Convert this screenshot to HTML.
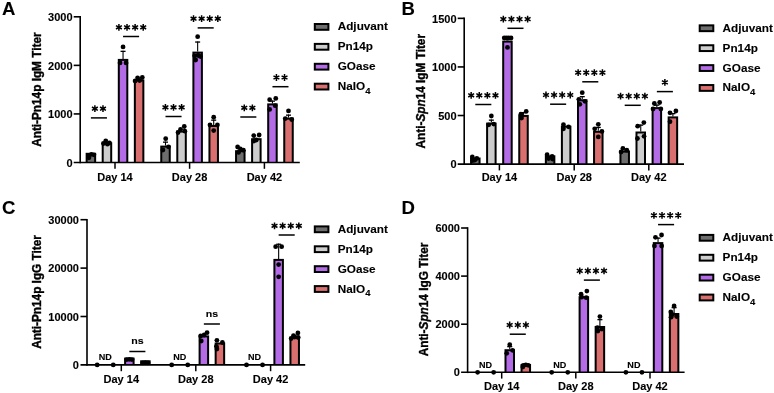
<!DOCTYPE html>
<html><head><meta charset="utf-8"><style>
html,body{margin:0;padding:0;background:#fff;}
body{width:774px;height:393px;overflow:hidden;}
svg{display:block;will-change:transform;}
text{stroke:#000;stroke-width:0.1px;font-family:"Liberation Sans", sans-serif;}
</style></head><body>
<svg width="774" height="393" viewBox="0 0 774 393">
<rect width="774" height="393" fill="#fff"/>
<path d="M80.2 163.3V16" stroke="#000" stroke-width="1.6"/>
<text transform="translate(72.6 166.77) scale(1.08 1)" text-anchor="end" font-size="10.2" font-weight="bold">0</text>
<path d="M73.7 113.93H80.2" stroke="#000" stroke-width="1.6"/>
<text transform="translate(72.6 118.21) scale(1.08 1)" text-anchor="end" font-size="10.2" font-weight="bold">1000</text>
<path d="M73.7 65.37H80.2" stroke="#000" stroke-width="1.6"/>
<text transform="translate(72.6 69.64) scale(1.08 1)" text-anchor="end" font-size="10.2" font-weight="bold">2000</text>
<path d="M73.7 16.8H80.2" stroke="#000" stroke-width="1.6"/>
<text transform="translate(72.6 21.07) scale(1.08 1)" text-anchor="end" font-size="10.2" font-weight="bold">3000</text>
<text transform="translate(40.7 89.65) rotate(-90) scale(1 1.08)" text-anchor="middle" font-size="11.8" font-weight="bold" style="stroke-width:0.35px">Anti-Pn14p IgM Titer</text>
<path d="M115 162.5V168.8" stroke="#000" stroke-width="1.5"/>
<text transform="translate(115 180.8) scale(1.08 1)" text-anchor="middle" font-size="10.2" font-weight="bold">Day 14</text>
<rect x="85.65" y="152.8" width="10.5" height="9.7" fill="#000"/>
<rect x="87.65" y="154.8" width="6.5" height="7.7" fill="#6e6e6e"/>
<circle cx="88.4" cy="155.5" r="2.4"/>
<circle cx="91.4" cy="154.3" r="2.4"/>
<circle cx="93.9" cy="154.8" r="2.4"/>
<circle cx="88.9" cy="157.8" r="2.4"/>
<rect x="101.7" y="142.3" width="10.5" height="20.2" fill="#000"/>
<rect x="103.7" y="144.3" width="6.5" height="18.2" fill="#cdcdcd"/>
<circle cx="105.75" cy="140.8" r="2.4"/>
<circle cx="103.45" cy="143.5" r="2.4"/>
<circle cx="109.45" cy="142.8" r="2.4"/>
<circle cx="107.45" cy="144.2" r="2.4"/>
<path d="M123.05 58.9V50.7" stroke="#000" stroke-width="1.1"/>
<rect x="120.55" y="50.7" width="5" height="1.3"/>
<rect x="117.8" y="58.9" width="10.5" height="103.6" fill="#000"/>
<rect x="119.8" y="60.9" width="6.5" height="101.6" fill="#b46ce6"/>
<circle cx="123.05" cy="46.9" r="2.4"/>
<circle cx="120.05" cy="62.9" r="2.4"/>
<circle cx="126.05" cy="62.9" r="2.4"/>
<rect x="133.85" y="79.5" width="10.5" height="83" fill="#000"/>
<rect x="135.85" y="81.5" width="6.5" height="81" fill="#da6f6f"/>
<circle cx="137.6" cy="77.8" r="2.4"/>
<circle cx="142.3" cy="77.5" r="2.4"/>
<circle cx="135.1" cy="81" r="2.4"/>
<circle cx="139.6" cy="80.5" r="2.4"/>
<path d="M189.6 162.5V168.8" stroke="#000" stroke-width="1.5"/>
<text transform="translate(189.6 180.8) scale(1.08 1)" text-anchor="middle" font-size="10.2" font-weight="bold">Day 28</text>
<path d="M165.5 145.6V141.5" stroke="#000" stroke-width="1.1"/>
<rect x="163" y="141.5" width="5" height="1.3"/>
<rect x="160.25" y="145.6" width="10.5" height="16.9" fill="#000"/>
<rect x="162.25" y="147.6" width="6.5" height="14.9" fill="#6e6e6e"/>
<circle cx="165.7" cy="138.7" r="2.4"/>
<circle cx="162.9" cy="150" r="2.4"/>
<circle cx="168.5" cy="146.8" r="2.4"/>
<rect x="176.3" y="130.6" width="10.5" height="31.9" fill="#000"/>
<rect x="178.3" y="132.6" width="6.5" height="29.9" fill="#cdcdcd"/>
<circle cx="184.25" cy="126.5" r="2.4"/>
<circle cx="180.55" cy="129.3" r="2.4"/>
<circle cx="178.05" cy="132.5" r="2.4"/>
<circle cx="184.85" cy="131.2" r="2.4"/>
<path d="M197.65 51.6V41.4" stroke="#000" stroke-width="1.1"/>
<rect x="195.15" y="41.4" width="5" height="1.3"/>
<rect x="192.4" y="51.6" width="10.5" height="110.9" fill="#000"/>
<rect x="194.4" y="53.6" width="6.5" height="108.9" fill="#b46ce6"/>
<circle cx="197.65" cy="36.7" r="2.4"/>
<circle cx="194.65" cy="55.8" r="2.4"/>
<circle cx="198.15" cy="55.5" r="2.4"/>
<circle cx="200.45" cy="56.5" r="2.4"/>
<circle cx="195.65" cy="60" r="2.4"/>
<path d="M213.7 125V119.5" stroke="#000" stroke-width="1.1"/>
<rect x="211.2" y="119.5" width="5" height="1.3"/>
<rect x="208.45" y="125" width="10.5" height="37.5" fill="#000"/>
<rect x="210.45" y="127" width="6.5" height="35.5" fill="#da6f6f"/>
<circle cx="213.7" cy="117.2" r="2.4"/>
<circle cx="210" cy="125" r="2.4"/>
<circle cx="217.4" cy="125" r="2.4"/>
<circle cx="213.7" cy="130.6" r="2.4"/>
<path d="M264.4 162.5V168.8" stroke="#000" stroke-width="1.5"/>
<text transform="translate(264.4 180.8) scale(1.08 1)" text-anchor="middle" font-size="10.2" font-weight="bold">Day 42</text>
<rect x="235.05" y="150.2" width="10.5" height="12.3" fill="#000"/>
<rect x="237.05" y="152.2" width="6.5" height="10.3" fill="#6e6e6e"/>
<circle cx="237.6" cy="147" r="2.4"/>
<circle cx="240.3" cy="148.8" r="2.4"/>
<circle cx="243.4" cy="150.2" r="2.4"/>
<circle cx="238.5" cy="152.4" r="2.4"/>
<rect x="251.1" y="138.2" width="10.5" height="24.3" fill="#000"/>
<rect x="253.1" y="140.2" width="6.5" height="22.3" fill="#cdcdcd"/>
<circle cx="253.75" cy="135.6" r="2.4"/>
<circle cx="259.15" cy="135" r="2.4"/>
<circle cx="256.35" cy="140" r="2.4"/>
<circle cx="253.75" cy="141" r="2.4"/>
<path d="M272.45 103.4V100.5" stroke="#000" stroke-width="1.1"/>
<rect x="269.95" y="100.5" width="5" height="1.3"/>
<rect x="267.2" y="103.4" width="10.5" height="59.1" fill="#000"/>
<rect x="269.2" y="105.4" width="6.5" height="57.1" fill="#b46ce6"/>
<circle cx="269.65" cy="99.7" r="2.4"/>
<circle cx="275.75" cy="98.4" r="2.4"/>
<circle cx="269.65" cy="109.4" r="2.4"/>
<circle cx="275.15" cy="105.7" r="2.4"/>
<path d="M288.5 117.6V114.5" stroke="#000" stroke-width="1.1"/>
<rect x="286" y="114.5" width="5" height="1.3"/>
<rect x="283.25" y="117.6" width="10.5" height="44.9" fill="#000"/>
<rect x="285.25" y="119.6" width="6.5" height="42.9" fill="#da6f6f"/>
<circle cx="288.5" cy="110.9" r="2.4"/>
<circle cx="285.3" cy="118.6" r="2.4"/>
<circle cx="291.7" cy="119.5" r="2.4"/>
<path d="M73.7 162.5H299.8" stroke="#000" stroke-width="1.6"/>
<path d="M90.9 117.9H106.95" stroke="#000" stroke-width="1.5"/>
<path d="M94.88 105.3L94.88 112.1M91.93 107L97.82 110.4M97.82 107L91.93 110.4" stroke="#000" stroke-width="1.5" stroke-linecap="butt"/><path d="M102.98 105.3L102.98 112.1M100.03 107L105.92 110.4M105.92 107L100.03 110.4" stroke="#000" stroke-width="1.5" stroke-linecap="butt"/>
<path d="M123.05 36.5H139.1" stroke="#000" stroke-width="1.5"/>
<path d="M118.92 23.9L118.92 30.7M115.98 25.6L121.87 29M121.87 25.6L115.98 29" stroke="#000" stroke-width="1.5" stroke-linecap="butt"/><path d="M127.02 23.9L127.02 30.7M124.08 25.6L129.97 29M129.97 25.6L124.08 29" stroke="#000" stroke-width="1.5" stroke-linecap="butt"/><path d="M135.12 23.9L135.12 30.7M132.18 25.6L138.07 29M138.07 25.6L132.18 29" stroke="#000" stroke-width="1.5" stroke-linecap="butt"/><path d="M143.22 23.9L143.22 30.7M140.28 25.6L146.17 29M146.17 25.6L140.28 29" stroke="#000" stroke-width="1.5" stroke-linecap="butt"/>
<path d="M165.5 116.5H181.55" stroke="#000" stroke-width="1.5"/>
<path d="M165.42 103.9L165.42 110.7M162.48 105.6L168.37 109M168.37 105.6L162.48 109" stroke="#000" stroke-width="1.5" stroke-linecap="butt"/><path d="M173.52 103.9L173.52 110.7M170.58 105.6L176.47 109M176.47 105.6L170.58 109" stroke="#000" stroke-width="1.5" stroke-linecap="butt"/><path d="M181.62 103.9L181.62 110.7M178.68 105.6L184.57 109M184.57 105.6L178.68 109" stroke="#000" stroke-width="1.5" stroke-linecap="butt"/>
<path d="M197.65 27.9H213.7" stroke="#000" stroke-width="1.5"/>
<path d="M193.53 15.3L193.53 22.1M190.58 17L196.47 20.4M196.47 17L190.58 20.4" stroke="#000" stroke-width="1.5" stroke-linecap="butt"/><path d="M201.62 15.3L201.62 22.1M198.68 17L204.57 20.4M204.57 17L198.68 20.4" stroke="#000" stroke-width="1.5" stroke-linecap="butt"/><path d="M209.72 15.3L209.72 22.1M206.78 17L212.67 20.4M212.67 17L206.78 20.4" stroke="#000" stroke-width="1.5" stroke-linecap="butt"/><path d="M217.82 15.3L217.82 22.1M214.88 17L220.77 20.4M220.77 17L214.88 20.4" stroke="#000" stroke-width="1.5" stroke-linecap="butt"/>
<path d="M240.3 117H256.35" stroke="#000" stroke-width="1.5"/>
<path d="M244.27 104.4L244.27 111.2M241.33 106.1L247.22 109.5M247.22 106.1L241.33 109.5" stroke="#000" stroke-width="1.5" stroke-linecap="butt"/><path d="M252.37 104.4L252.37 111.2M249.43 106.1L255.32 109.5M255.32 106.1L249.43 109.5" stroke="#000" stroke-width="1.5" stroke-linecap="butt"/>
<path d="M272.45 86.7H288.5" stroke="#000" stroke-width="1.5"/>
<path d="M276.43 74.1L276.43 80.9M273.48 75.8L279.37 79.2M279.37 75.8L273.48 79.2" stroke="#000" stroke-width="1.5" stroke-linecap="butt"/><path d="M284.53 74.1L284.53 80.9M281.58 75.8L287.47 79.2M287.47 75.8L281.58 79.2" stroke="#000" stroke-width="1.5" stroke-linecap="butt"/>
<text transform="translate(2 15) scale(1.03 1)" text-anchor="start" font-size="18" font-weight="bold">A</text>
<rect x="313.8" y="23" width="15.6" height="7.8" fill="#000"/>
<rect x="315.8" y="25" width="11.6" height="3.8" fill="#6e6e6e"/>
<text transform="translate(337.7 30.4) scale(1.06 1)" text-anchor="start" font-size="11.1" font-weight="bold">Adjuvant</text>
<rect x="313.8" y="42.9" width="15.6" height="7.8" fill="#000"/>
<rect x="315.8" y="44.9" width="11.6" height="3.8" fill="#cdcdcd"/>
<text transform="translate(337.7 50.3) scale(1.06 1)" text-anchor="start" font-size="11.1" font-weight="bold">Pn14p</text>
<rect x="313.8" y="62.8" width="15.6" height="7.8" fill="#000"/>
<rect x="315.8" y="64.8" width="11.6" height="3.8" fill="#b46ce6"/>
<text transform="translate(337.7 70.2) scale(1.06 1)" text-anchor="start" font-size="11.1" font-weight="bold">GOase</text>
<rect x="313.8" y="82.7" width="15.6" height="7.8" fill="#000"/>
<rect x="315.8" y="84.7" width="11.6" height="3.8" fill="#da6f6f"/>
<text transform="translate(337.7 90.1) scale(1.06 1)" text-anchor="start" font-size="11.1" font-weight="bold">NaIO<tspan font-size="9" dy="3.6">4</tspan></text>
<path d="M464.2 164.9V17.55" stroke="#000" stroke-width="1.6"/>
<text transform="translate(456.6 168.37) scale(1.08 1)" text-anchor="end" font-size="10.2" font-weight="bold">0</text>
<path d="M457.7 115.52H464.2" stroke="#000" stroke-width="1.6"/>
<text transform="translate(456.6 119.79) scale(1.08 1)" text-anchor="end" font-size="10.2" font-weight="bold">500</text>
<path d="M457.7 66.93H464.2" stroke="#000" stroke-width="1.6"/>
<text transform="translate(456.6 71.21) scale(1.08 1)" text-anchor="end" font-size="10.2" font-weight="bold">1000</text>
<path d="M457.7 18.35H464.2" stroke="#000" stroke-width="1.6"/>
<text transform="translate(456.6 22.62) scale(1.08 1)" text-anchor="end" font-size="10.2" font-weight="bold">1500</text>
<text transform="translate(424.8 91.22) rotate(-90) scale(1 1.08)" text-anchor="middle" font-size="11.8" font-weight="bold" style="stroke-width:0.35px">Anti-<tspan font-style="italic">Spn</tspan>14 IgM Titer</text>
<path d="M499.4 164.1V170.4" stroke="#000" stroke-width="1.5"/>
<text transform="translate(499.4 181.4) scale(1.08 1)" text-anchor="middle" font-size="10.2" font-weight="bold">Day 14</text>
<rect x="470.05" y="157.5" width="10.5" height="6.6" fill="#000"/>
<rect x="472.05" y="159.5" width="6.5" height="4.6" fill="#6e6e6e"/>
<circle cx="472.3" cy="157" r="2.4"/>
<circle cx="476.8" cy="158.4" r="2.4"/>
<circle cx="474.8" cy="160" r="2.4"/>
<circle cx="472.8" cy="160.5" r="2.4"/>
<path d="M491.35 122.6V119.5" stroke="#000" stroke-width="1.1"/>
<rect x="488.85" y="119.5" width="5" height="1.3"/>
<rect x="486.1" y="122.6" width="10.5" height="41.5" fill="#000"/>
<rect x="488.1" y="124.6" width="6.5" height="39.5" fill="#cdcdcd"/>
<circle cx="491.35" cy="116" r="2.4"/>
<circle cx="488.75" cy="124.8" r="2.4"/>
<circle cx="493.75" cy="124.1" r="2.4"/>
<path d="M507.45 40.6V38" stroke="#000" stroke-width="1.1"/>
<rect x="504.95" y="38" width="5" height="1.3"/>
<rect x="502.2" y="40.6" width="10.5" height="123.5" fill="#000"/>
<rect x="504.2" y="42.6" width="6.5" height="121.5" fill="#b46ce6"/>
<circle cx="504.25" cy="38" r="2.4"/>
<circle cx="506.45" cy="38" r="2.4"/>
<circle cx="508.65" cy="38" r="2.4"/>
<circle cx="511.05" cy="38" r="2.4"/>
<circle cx="507.45" cy="47.4" r="2.4"/>
<path d="M523.5 114.9V112" stroke="#000" stroke-width="1.1"/>
<rect x="521" y="112" width="5" height="1.3"/>
<rect x="518.25" y="114.9" width="10.5" height="49.2" fill="#000"/>
<rect x="520.25" y="116.9" width="6.5" height="47.2" fill="#da6f6f"/>
<circle cx="526.2" cy="111.4" r="2.4"/>
<circle cx="520.9" cy="114.2" r="2.4"/>
<circle cx="521.5" cy="118" r="2.4"/>
<path d="M574.2 164.1V170.4" stroke="#000" stroke-width="1.5"/>
<text transform="translate(574.2 181.4) scale(1.08 1)" text-anchor="middle" font-size="10.2" font-weight="bold">Day 28</text>
<rect x="544.85" y="155.3" width="10.5" height="8.8" fill="#000"/>
<rect x="546.85" y="157.3" width="6.5" height="6.8" fill="#6e6e6e"/>
<circle cx="547.1" cy="154.7" r="2.4"/>
<circle cx="552.1" cy="156.3" r="2.4"/>
<circle cx="548.6" cy="158.5" r="2.4"/>
<circle cx="552.6" cy="159" r="2.4"/>
<rect x="560.9" y="125.7" width="10.5" height="38.4" fill="#000"/>
<rect x="562.9" y="127.7" width="6.5" height="36.4" fill="#cdcdcd"/>
<circle cx="563.45" cy="124.7" r="2.4"/>
<circle cx="568.55" cy="126.8" r="2.4"/>
<circle cx="563.45" cy="128.8" r="2.4"/>
<path d="M582.25 99.3V96" stroke="#000" stroke-width="1.1"/>
<rect x="579.75" y="96" width="5" height="1.3"/>
<rect x="577" y="99.3" width="10.5" height="64.8" fill="#000"/>
<rect x="579" y="101.3" width="6.5" height="62.8" fill="#b46ce6"/>
<circle cx="582.25" cy="92.7" r="2.4"/>
<circle cx="578.85" cy="99.3" r="2.4"/>
<circle cx="584.95" cy="101.3" r="2.4"/>
<circle cx="579.85" cy="104.3" r="2.4"/>
<path d="M598.3 130.8V126.8" stroke="#000" stroke-width="1.1"/>
<rect x="595.8" y="126.8" width="5" height="1.3"/>
<rect x="593.05" y="130.8" width="10.5" height="33.3" fill="#000"/>
<rect x="595.05" y="132.8" width="6.5" height="31.3" fill="#da6f6f"/>
<circle cx="598.3" cy="124.3" r="2.4"/>
<circle cx="594.7" cy="128.8" r="2.4"/>
<circle cx="601.9" cy="131.4" r="2.4"/>
<circle cx="598.3" cy="136.9" r="2.4"/>
<path d="M648.8 164.1V170.4" stroke="#000" stroke-width="1.5"/>
<text transform="translate(648.8 181.4) scale(1.08 1)" text-anchor="middle" font-size="10.2" font-weight="bold">Day 42</text>
<rect x="619.45" y="150.6" width="10.5" height="13.5" fill="#000"/>
<rect x="621.45" y="152.6" width="6.5" height="11.5" fill="#6e6e6e"/>
<circle cx="622.9" cy="148.4" r="2.4"/>
<circle cx="626.8" cy="150.2" r="2.4"/>
<circle cx="621.1" cy="152" r="2.4"/>
<path d="M640.75 131.5V124.5" stroke="#000" stroke-width="1.1"/>
<rect x="638.25" y="124.5" width="5" height="1.3"/>
<rect x="635.5" y="131.5" width="10.5" height="32.6" fill="#000"/>
<rect x="637.5" y="133.5" width="6.5" height="30.6" fill="#cdcdcd"/>
<circle cx="637.65" cy="126.2" r="2.4"/>
<circle cx="643.85" cy="122.6" r="2.4"/>
<circle cx="637.45" cy="138.5" r="2.4"/>
<circle cx="644.05" cy="136.3" r="2.4"/>
<path d="M656.85 107.1V104.5" stroke="#000" stroke-width="1.1"/>
<rect x="654.35" y="104.5" width="5" height="1.3"/>
<rect x="651.6" y="107.1" width="10.5" height="57" fill="#000"/>
<rect x="653.6" y="109.1" width="6.5" height="55" fill="#b46ce6"/>
<circle cx="654.35" cy="103.5" r="2.4"/>
<circle cx="659.65" cy="102.5" r="2.4"/>
<circle cx="653.05" cy="109" r="2.4"/>
<circle cx="660.85" cy="109" r="2.4"/>
<path d="M672.9 116.4V113" stroke="#000" stroke-width="1.1"/>
<rect x="670.4" y="113" width="5" height="1.3"/>
<rect x="667.65" y="116.4" width="10.5" height="47.7" fill="#000"/>
<rect x="669.65" y="118.4" width="6.5" height="45.7" fill="#da6f6f"/>
<circle cx="670" cy="112.8" r="2.4"/>
<circle cx="675.9" cy="111" r="2.4"/>
<circle cx="670" cy="121.7" r="2.4"/>
<path d="M457.7 164.1H684" stroke="#000" stroke-width="1.6"/>
<path d="M475.3 104.5H491.35" stroke="#000" stroke-width="1.5"/>
<path d="M471.17 91.9L471.17 98.7M468.23 93.6L474.12 97M474.12 93.6L468.23 97" stroke="#000" stroke-width="1.5" stroke-linecap="butt"/><path d="M479.27 91.9L479.27 98.7M476.33 93.6L482.22 97M482.22 93.6L476.33 97" stroke="#000" stroke-width="1.5" stroke-linecap="butt"/><path d="M487.37 91.9L487.37 98.7M484.43 93.6L490.32 97M490.32 93.6L484.43 97" stroke="#000" stroke-width="1.5" stroke-linecap="butt"/><path d="M495.47 91.9L495.47 98.7M492.53 93.6L498.42 97M498.42 93.6L492.53 97" stroke="#000" stroke-width="1.5" stroke-linecap="butt"/>
<path d="M507.45 28.3H523.5" stroke="#000" stroke-width="1.5"/>
<path d="M503.33 15.7L503.33 22.5M500.38 17.4L506.27 20.8M506.27 17.4L500.38 20.8" stroke="#000" stroke-width="1.5" stroke-linecap="butt"/><path d="M511.43 15.7L511.43 22.5M508.48 17.4L514.37 20.8M514.37 17.4L508.48 20.8" stroke="#000" stroke-width="1.5" stroke-linecap="butt"/><path d="M519.53 15.7L519.53 22.5M516.58 17.4L522.47 20.8M522.47 17.4L516.58 20.8" stroke="#000" stroke-width="1.5" stroke-linecap="butt"/><path d="M527.62 15.7L527.62 22.5M524.68 17.4L530.57 20.8M530.57 17.4L524.68 20.8" stroke="#000" stroke-width="1.5" stroke-linecap="butt"/>
<path d="M550.1 104.2H566.15" stroke="#000" stroke-width="1.5"/>
<path d="M545.98 91.6L545.98 98.4M543.03 93.3L548.92 96.7M548.92 93.3L543.03 96.7" stroke="#000" stroke-width="1.5" stroke-linecap="butt"/><path d="M554.08 91.6L554.08 98.4M551.13 93.3L557.02 96.7M557.02 93.3L551.13 96.7" stroke="#000" stroke-width="1.5" stroke-linecap="butt"/><path d="M562.18 91.6L562.18 98.4M559.23 93.3L565.12 96.7M565.12 93.3L559.23 96.7" stroke="#000" stroke-width="1.5" stroke-linecap="butt"/><path d="M570.27 91.6L570.27 98.4M567.33 93.3L573.22 96.7M573.22 93.3L567.33 96.7" stroke="#000" stroke-width="1.5" stroke-linecap="butt"/>
<path d="M582.25 81.8H598.3" stroke="#000" stroke-width="1.5"/>
<path d="M578.13 69.2L578.13 76M575.18 70.9L581.07 74.3M581.07 70.9L575.18 74.3" stroke="#000" stroke-width="1.5" stroke-linecap="butt"/><path d="M586.23 69.2L586.23 76M583.28 70.9L589.17 74.3M589.17 70.9L583.28 74.3" stroke="#000" stroke-width="1.5" stroke-linecap="butt"/><path d="M594.33 69.2L594.33 76M591.38 70.9L597.27 74.3M597.27 70.9L591.38 74.3" stroke="#000" stroke-width="1.5" stroke-linecap="butt"/><path d="M602.43 69.2L602.43 76M599.48 70.9L605.37 74.3M605.37 70.9L599.48 74.3" stroke="#000" stroke-width="1.5" stroke-linecap="butt"/>
<path d="M624.7 105.3H640.75" stroke="#000" stroke-width="1.5"/>
<path d="M620.57 92.7L620.57 99.5M617.63 94.4L623.52 97.8M623.52 94.4L617.63 97.8" stroke="#000" stroke-width="1.5" stroke-linecap="butt"/><path d="M628.67 92.7L628.67 99.5M625.73 94.4L631.62 97.8M631.62 94.4L625.73 97.8" stroke="#000" stroke-width="1.5" stroke-linecap="butt"/><path d="M636.77 92.7L636.77 99.5M633.83 94.4L639.72 97.8M639.72 94.4L633.83 97.8" stroke="#000" stroke-width="1.5" stroke-linecap="butt"/><path d="M644.87 92.7L644.87 99.5M641.93 94.4L647.82 97.8M647.82 94.4L641.93 97.8" stroke="#000" stroke-width="1.5" stroke-linecap="butt"/>
<path d="M656.85 91.6H672.9" stroke="#000" stroke-width="1.5"/>
<path d="M664.88 79L664.88 85.8M661.93 80.7L667.82 84.1M667.82 80.7L661.93 84.1" stroke="#000" stroke-width="1.5" stroke-linecap="butt"/>
<text transform="translate(401.5 15) scale(1.03 1)" text-anchor="start" font-size="18" font-weight="bold">B</text>
<rect x="698.7" y="24.35" width="15.6" height="7.8" fill="#000"/>
<rect x="700.7" y="26.35" width="11.6" height="3.8" fill="#6e6e6e"/>
<text transform="translate(722.6 31.75) scale(1.06 1)" text-anchor="start" font-size="11.1" font-weight="bold">Adjuvant</text>
<rect x="698.7" y="44.25" width="15.6" height="7.8" fill="#000"/>
<rect x="700.7" y="46.25" width="11.6" height="3.8" fill="#cdcdcd"/>
<text transform="translate(722.6 51.65) scale(1.06 1)" text-anchor="start" font-size="11.1" font-weight="bold">Pn14p</text>
<rect x="698.7" y="64.15" width="15.6" height="7.8" fill="#000"/>
<rect x="700.7" y="66.15" width="11.6" height="3.8" fill="#b46ce6"/>
<text transform="translate(722.6 71.55) scale(1.06 1)" text-anchor="start" font-size="11.1" font-weight="bold">GOase</text>
<rect x="698.7" y="84.05" width="15.6" height="7.8" fill="#000"/>
<rect x="700.7" y="86.05" width="11.6" height="3.8" fill="#da6f6f"/>
<text transform="translate(722.6 91.45) scale(1.06 1)" text-anchor="start" font-size="11.1" font-weight="bold">NaIO<tspan font-size="9" dy="3.6">4</tspan></text>
<path d="M87 365.7V218.9" stroke="#000" stroke-width="1.6"/>
<text transform="translate(79 369.17) scale(1.08 1)" text-anchor="end" font-size="10.2" font-weight="bold">0</text>
<path d="M80.5 316.5H87" stroke="#000" stroke-width="1.6"/>
<text transform="translate(79 320.77) scale(1.08 1)" text-anchor="end" font-size="10.2" font-weight="bold">10000</text>
<path d="M80.5 268.1H87" stroke="#000" stroke-width="1.6"/>
<text transform="translate(79 272.37) scale(1.08 1)" text-anchor="end" font-size="10.2" font-weight="bold">20000</text>
<path d="M80.5 219.7H87" stroke="#000" stroke-width="1.6"/>
<text transform="translate(79 223.97) scale(1.08 1)" text-anchor="end" font-size="10.2" font-weight="bold">30000</text>
<text transform="translate(40.7 292) rotate(-90) scale(1 1.08)" text-anchor="middle" font-size="11.8" font-weight="bold" style="stroke-width:0.35px">Anti-Pn14p IgG Titer</text>
<path d="M121.3 364.9V371.2" stroke="#000" stroke-width="1.5"/>
<text transform="translate(121.3 382.9) scale(1.08 1)" text-anchor="middle" font-size="10.2" font-weight="bold">Day 14</text>
<circle cx="97.2" cy="364.9" r="2.4"/>
<circle cx="113.25" cy="364.9" r="2.4"/>
<rect x="124.1" y="357.6" width="10.5" height="7.3" fill="#000"/>
<rect x="126.1" y="359.6" width="6.5" height="5.3" fill="#b46ce6"/>
<circle cx="126.75" cy="359.6" r="2.4"/>
<circle cx="129.35" cy="359.3" r="2.4"/>
<circle cx="131.95" cy="359.6" r="2.4"/>
<rect x="140.15" y="360.3" width="10.5" height="4.6" fill="#000"/>
<rect x="142.15" y="362.3" width="6.5" height="2.6" fill="#da6f6f"/>
<circle cx="142.8" cy="362.8" r="2.4"/>
<circle cx="145.4" cy="362.7" r="2.4"/>
<circle cx="148" cy="362.8" r="2.4"/>
<text transform="translate(105.22 360) scale(1.08 1)" text-anchor="middle" font-size="8.4" font-weight="bold">ND</text>
<path d="M195.8 364.9V371.2" stroke="#000" stroke-width="1.5"/>
<text transform="translate(195.8 382.9) scale(1.08 1)" text-anchor="middle" font-size="10.2" font-weight="bold">Day 28</text>
<circle cx="171.7" cy="364.9" r="2.4"/>
<circle cx="187.75" cy="364.9" r="2.4"/>
<rect x="198.6" y="335.4" width="10.5" height="29.5" fill="#000"/>
<rect x="200.6" y="337.4" width="6.5" height="27.5" fill="#b46ce6"/>
<circle cx="207.05" cy="332.7" r="2.4"/>
<circle cx="204.15" cy="335" r="2.4"/>
<circle cx="200.65" cy="336" r="2.4"/>
<circle cx="201.25" cy="341" r="2.4"/>
<rect x="214.65" y="342.5" width="10.5" height="22.4" fill="#000"/>
<rect x="216.65" y="344.5" width="6.5" height="20.4" fill="#da6f6f"/>
<circle cx="216.9" cy="340.3" r="2.4"/>
<circle cx="222.4" cy="342.5" r="2.4"/>
<circle cx="216.4" cy="346.3" r="2.4"/>
<circle cx="216.9" cy="349" r="2.4"/>
<text transform="translate(179.73 360) scale(1.08 1)" text-anchor="middle" font-size="8.4" font-weight="bold">ND</text>
<path d="M270.6 364.9V371.2" stroke="#000" stroke-width="1.5"/>
<text transform="translate(270.6 382.9) scale(1.08 1)" text-anchor="middle" font-size="10.2" font-weight="bold">Day 42</text>
<circle cx="246.5" cy="364.9" r="2.4"/>
<circle cx="262.55" cy="364.9" r="2.4"/>
<path d="M278.65 258.9V243.6" stroke="#000" stroke-width="1.1"/>
<rect x="276.15" y="243.6" width="5" height="1.3"/>
<rect x="273.4" y="258.9" width="10.5" height="106" fill="#000"/>
<rect x="275.4" y="260.9" width="6.5" height="104" fill="#b46ce6"/>
<circle cx="275.65" cy="246.7" r="2.4"/>
<circle cx="281.65" cy="246.7" r="2.4"/>
<circle cx="278.65" cy="264.6" r="2.4"/>
<circle cx="278.65" cy="276.8" r="2.4"/>
<rect x="289.45" y="336.8" width="10.5" height="28.1" fill="#000"/>
<rect x="291.45" y="338.8" width="6.5" height="26.1" fill="#da6f6f"/>
<circle cx="297.9" cy="333" r="2.4"/>
<circle cx="293.5" cy="335.6" r="2.4"/>
<circle cx="291.2" cy="338.5" r="2.4"/>
<circle cx="298.2" cy="337.5" r="2.4"/>
<circle cx="294.7" cy="337" r="2.4"/>
<text transform="translate(254.53 360) scale(1.08 1)" text-anchor="middle" font-size="8.4" font-weight="bold">ND</text>
<path d="M80.5 364.9H305.2" stroke="#000" stroke-width="1.6"/>
<path d="M129.35 351.5H145.4" stroke="#000" stroke-width="1.5"/>
<text transform="translate(137.38 344) scale(1.08 1)" text-anchor="middle" font-size="9.8" font-weight="bold">ns</text>
<path d="M203.85 324H219.9" stroke="#000" stroke-width="1.5"/>
<text transform="translate(211.88 316.5) scale(1.08 1)" text-anchor="middle" font-size="9.8" font-weight="bold">ns</text>
<path d="M278.65 235H294.7" stroke="#000" stroke-width="1.5"/>
<path d="M274.53 222.4L274.53 229.2M271.58 224.1L277.47 227.5M277.47 224.1L271.58 227.5" stroke="#000" stroke-width="1.5" stroke-linecap="butt"/><path d="M282.63 222.4L282.63 229.2M279.68 224.1L285.57 227.5M285.57 224.1L279.68 227.5" stroke="#000" stroke-width="1.5" stroke-linecap="butt"/><path d="M290.73 222.4L290.73 229.2M287.78 224.1L293.67 227.5M293.67 224.1L287.78 227.5" stroke="#000" stroke-width="1.5" stroke-linecap="butt"/><path d="M298.83 222.4L298.83 229.2M295.88 224.1L301.77 227.5M301.77 224.1L295.88 227.5" stroke="#000" stroke-width="1.5" stroke-linecap="butt"/>
<text transform="translate(2 214) scale(1.03 1)" text-anchor="start" font-size="18" font-weight="bold">C</text>
<rect x="313.8" y="225.4" width="15.6" height="7.8" fill="#000"/>
<rect x="315.8" y="227.4" width="11.6" height="3.8" fill="#6e6e6e"/>
<text transform="translate(337.7 232.8) scale(1.06 1)" text-anchor="start" font-size="11.1" font-weight="bold">Adjuvant</text>
<rect x="313.8" y="245.3" width="15.6" height="7.8" fill="#000"/>
<rect x="315.8" y="247.3" width="11.6" height="3.8" fill="#cdcdcd"/>
<text transform="translate(337.7 252.7) scale(1.06 1)" text-anchor="start" font-size="11.1" font-weight="bold">Pn14p</text>
<rect x="313.8" y="265.2" width="15.6" height="7.8" fill="#000"/>
<rect x="315.8" y="267.2" width="11.6" height="3.8" fill="#b46ce6"/>
<text transform="translate(337.7 272.6) scale(1.06 1)" text-anchor="start" font-size="11.1" font-weight="bold">GOase</text>
<rect x="313.8" y="285.1" width="15.6" height="7.8" fill="#000"/>
<rect x="315.8" y="287.1" width="11.6" height="3.8" fill="#da6f6f"/>
<text transform="translate(337.7 292.5) scale(1.06 1)" text-anchor="start" font-size="11.1" font-weight="bold">NaIO<tspan font-size="9" dy="3.6">4</tspan></text>
<path d="M467.6 373.1V227.2" stroke="#000" stroke-width="1.6"/>
<text transform="translate(460 376.07) scale(1.08 1)" text-anchor="end" font-size="10.2" font-weight="bold">0</text>
<path d="M461.1 324.2H467.6" stroke="#000" stroke-width="1.6"/>
<text transform="translate(460 327.97) scale(1.08 1)" text-anchor="end" font-size="10.2" font-weight="bold">2000</text>
<path d="M461.1 276.1H467.6" stroke="#000" stroke-width="1.6"/>
<text transform="translate(460 279.87) scale(1.08 1)" text-anchor="end" font-size="10.2" font-weight="bold">4000</text>
<path d="M461.1 228H467.6" stroke="#000" stroke-width="1.6"/>
<text transform="translate(460 231.77) scale(1.08 1)" text-anchor="end" font-size="10.2" font-weight="bold">6000</text>
<text transform="translate(428 299.45) rotate(-90) scale(1 1.08)" text-anchor="middle" font-size="11.8" font-weight="bold" style="stroke-width:0.35px">Anti-<tspan font-style="italic">Spn</tspan>14 IgG Titer</text>
<path d="M501.7 372.3V378.6" stroke="#000" stroke-width="1.5"/>
<text transform="translate(501.7 390.4) scale(1.08 1)" text-anchor="middle" font-size="10.2" font-weight="bold">Day 14</text>
<circle cx="477.6" cy="372.3" r="2.4"/>
<circle cx="493.65" cy="372.3" r="2.4"/>
<path d="M509.75 349.2V346" stroke="#000" stroke-width="1.1"/>
<rect x="507.25" y="346" width="5" height="1.3"/>
<rect x="504.5" y="349.2" width="10.5" height="23.1" fill="#000"/>
<rect x="506.5" y="351.2" width="6.5" height="21.1" fill="#b46ce6"/>
<circle cx="509.75" cy="344.7" r="2.4"/>
<circle cx="506.75" cy="353.3" r="2.4"/>
<circle cx="512.55" cy="350.3" r="2.4"/>
<rect x="520.55" y="364" width="10.5" height="8.3" fill="#000"/>
<rect x="522.55" y="366" width="6.5" height="6.3" fill="#da6f6f"/>
<circle cx="523.3" cy="365.3" r="2.4"/>
<circle cx="525.8" cy="364.8" r="2.4"/>
<circle cx="528.3" cy="365.3" r="2.4"/>
<circle cx="522.8" cy="367" r="2.4"/>
<text transform="translate(485.62 368.3) scale(1.08 1)" text-anchor="middle" font-size="8.4" font-weight="bold">ND</text>
<path d="M575.8 372.3V378.6" stroke="#000" stroke-width="1.5"/>
<text transform="translate(575.8 390.4) scale(1.08 1)" text-anchor="middle" font-size="10.2" font-weight="bold">Day 28</text>
<circle cx="551.7" cy="372.3" r="2.4"/>
<circle cx="567.75" cy="372.3" r="2.4"/>
<rect x="578.6" y="296.2" width="10.5" height="76.1" fill="#000"/>
<rect x="580.6" y="298.2" width="6.5" height="74.1" fill="#b46ce6"/>
<circle cx="586.85" cy="291.1" r="2.4"/>
<circle cx="581.05" cy="294.2" r="2.4"/>
<circle cx="581.65" cy="297.2" r="2.4"/>
<circle cx="586.25" cy="297.7" r="2.4"/>
<path d="M599.9 326V319" stroke="#000" stroke-width="1.1"/>
<rect x="597.4" y="319" width="5" height="1.3"/>
<rect x="594.65" y="326" width="10.5" height="46.3" fill="#000"/>
<rect x="596.65" y="328" width="6.5" height="44.3" fill="#da6f6f"/>
<circle cx="599.9" cy="316.6" r="2.4"/>
<circle cx="597.4" cy="327.6" r="2.4"/>
<circle cx="601.9" cy="329" r="2.4"/>
<circle cx="597.9" cy="331" r="2.4"/>
<text transform="translate(559.72 368.3) scale(1.08 1)" text-anchor="middle" font-size="8.4" font-weight="bold">ND</text>
<path d="M650 372.3V378.6" stroke="#000" stroke-width="1.5"/>
<text transform="translate(650 390.4) scale(1.08 1)" text-anchor="middle" font-size="10.2" font-weight="bold">Day 42</text>
<circle cx="625.9" cy="372.3" r="2.4"/>
<circle cx="641.95" cy="372.3" r="2.4"/>
<path d="M658.05 242.1V237.5" stroke="#000" stroke-width="1.1"/>
<rect x="655.55" y="237.5" width="5" height="1.3"/>
<rect x="652.8" y="242.1" width="10.5" height="130.2" fill="#000"/>
<rect x="654.8" y="244.1" width="6.5" height="128.2" fill="#b46ce6"/>
<circle cx="655.45" cy="237.3" r="2.4"/>
<circle cx="661.55" cy="235" r="2.4"/>
<circle cx="654.45" cy="246" r="2.4"/>
<circle cx="661.65" cy="246" r="2.4"/>
<path d="M674.1 313V307" stroke="#000" stroke-width="1.1"/>
<rect x="671.6" y="307" width="5" height="1.3"/>
<rect x="668.85" y="313" width="10.5" height="59.3" fill="#000"/>
<rect x="670.85" y="315" width="6.5" height="57.3" fill="#da6f6f"/>
<circle cx="674.1" cy="306" r="2.4"/>
<circle cx="670.8" cy="312" r="2.4"/>
<circle cx="671.1" cy="317.2" r="2.4"/>
<circle cx="676.7" cy="316.5" r="2.4"/>
<circle cx="672.6" cy="314.6" r="2.4"/>
<text transform="translate(633.92 368.3) scale(1.08 1)" text-anchor="middle" font-size="8.4" font-weight="bold">ND</text>
<path d="M461.1 372.3H684.6" stroke="#000" stroke-width="1.6"/>
<path d="M509.75 334.2H525.8" stroke="#000" stroke-width="1.5"/>
<path d="M509.67 321.6L509.67 328.4M506.73 323.3L512.62 326.7M512.62 323.3L506.73 326.7" stroke="#000" stroke-width="1.5" stroke-linecap="butt"/><path d="M517.77 321.6L517.77 328.4M514.83 323.3L520.72 326.7M520.72 323.3L514.83 326.7" stroke="#000" stroke-width="1.5" stroke-linecap="butt"/><path d="M525.88 321.6L525.88 328.4M522.93 323.3L528.82 326.7M528.82 323.3L522.93 326.7" stroke="#000" stroke-width="1.5" stroke-linecap="butt"/>
<path d="M583.85 280.1H599.9" stroke="#000" stroke-width="1.5"/>
<path d="M579.73 267.5L579.73 274.3M576.78 269.2L582.67 272.6M582.67 269.2L576.78 272.6" stroke="#000" stroke-width="1.5" stroke-linecap="butt"/><path d="M587.83 267.5L587.83 274.3M584.88 269.2L590.77 272.6M590.77 269.2L584.88 272.6" stroke="#000" stroke-width="1.5" stroke-linecap="butt"/><path d="M595.93 267.5L595.93 274.3M592.98 269.2L598.87 272.6M598.87 269.2L592.98 272.6" stroke="#000" stroke-width="1.5" stroke-linecap="butt"/><path d="M604.02 267.5L604.02 274.3M601.08 269.2L606.97 272.6M606.97 269.2L601.08 272.6" stroke="#000" stroke-width="1.5" stroke-linecap="butt"/>
<path d="M658.05 224.6H674.1" stroke="#000" stroke-width="1.5"/>
<path d="M653.93 212L653.93 218.8M650.98 213.7L656.87 217.1M656.87 213.7L650.98 217.1" stroke="#000" stroke-width="1.5" stroke-linecap="butt"/><path d="M662.03 212L662.03 218.8M659.08 213.7L664.97 217.1M664.97 213.7L659.08 217.1" stroke="#000" stroke-width="1.5" stroke-linecap="butt"/><path d="M670.13 212L670.13 218.8M667.18 213.7L673.07 217.1M673.07 213.7L667.18 217.1" stroke="#000" stroke-width="1.5" stroke-linecap="butt"/><path d="M678.23 212L678.23 218.8M675.28 213.7L681.17 217.1M681.17 213.7L675.28 217.1" stroke="#000" stroke-width="1.5" stroke-linecap="butt"/>
<text transform="translate(401.5 214) scale(1.03 1)" text-anchor="start" font-size="18" font-weight="bold">D</text>
<rect x="698.7" y="233.9" width="15.6" height="7.8" fill="#000"/>
<rect x="700.7" y="235.9" width="11.6" height="3.8" fill="#6e6e6e"/>
<text transform="translate(722.6 241.3) scale(1.06 1)" text-anchor="start" font-size="11.1" font-weight="bold">Adjuvant</text>
<rect x="698.7" y="253.8" width="15.6" height="7.8" fill="#000"/>
<rect x="700.7" y="255.8" width="11.6" height="3.8" fill="#cdcdcd"/>
<text transform="translate(722.6 261.2) scale(1.06 1)" text-anchor="start" font-size="11.1" font-weight="bold">Pn14p</text>
<rect x="698.7" y="273.7" width="15.6" height="7.8" fill="#000"/>
<rect x="700.7" y="275.7" width="11.6" height="3.8" fill="#b46ce6"/>
<text transform="translate(722.6 281.1) scale(1.06 1)" text-anchor="start" font-size="11.1" font-weight="bold">GOase</text>
<rect x="698.7" y="293.6" width="15.6" height="7.8" fill="#000"/>
<rect x="700.7" y="295.6" width="11.6" height="3.8" fill="#da6f6f"/>
<text transform="translate(722.6 301) scale(1.06 1)" text-anchor="start" font-size="11.1" font-weight="bold">NaIO<tspan font-size="9" dy="3.6">4</tspan></text>
</svg>
</body></html>
